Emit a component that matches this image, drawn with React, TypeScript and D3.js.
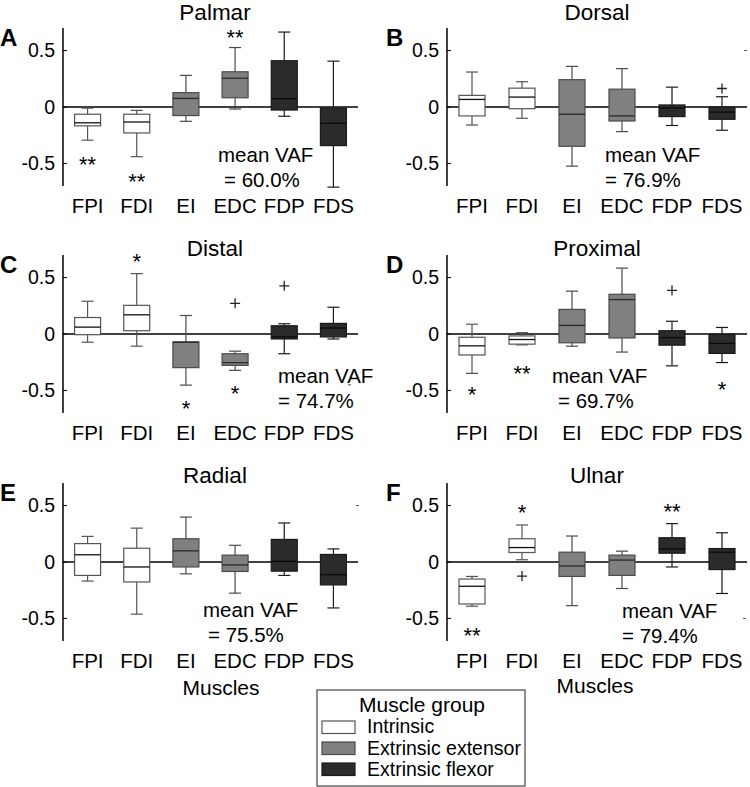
import React from "react";
import * as d3 from "d3";

// ---------- data ----------
const muscles = ["FPI", "FDI", "EI", "EDC", "FDP", "FDS"];
const muscleGroup = ["intrinsic", "intrinsic", "extensor", "extensor", "flexor", "flexor"];
const panelTitles = ["Palmar", "Dorsal", "Distal", "Proximal", "Radial", "Ulnar"];
const panelLetters = ["A", "B", "C", "D", "E", "F"];
const meanVAF = ["60.0%", "76.9%", "74.7%", "69.7%", "75.5%", "79.4%"];
const tickValues = [0.5, 0, -0.5];
const tickLabels = ["0.5", "0", "-0.5"];

// [whiskerLow, q1, median, q3, whiskerHigh] for each muscle
const palmarStats = [
  [-0.294, -0.167, -0.14, -0.064, -0.01],
  [-0.44, -0.23, -0.133, -0.064, -0.03],
  [-0.127, -0.076, 0.076, 0.127, 0.28],
  [-0.018, 0.082, 0.255, 0.312, 0.527],
  [-0.082, -0.027, 0.073, 0.41, 0.664],
  [-0.71, -0.342, -0.145, -0.009, 0.406],
];
const dorsalStats = [
  [-0.16, -0.079, 0.067, 0.103, 0.31],
  [-0.1, -0.015, 0.088, 0.167, 0.224],
  [-0.524, -0.348, -0.064, 0.242, 0.36],
  [-0.218, -0.124, -0.079, 0.158, 0.34],
  [-0.164, -0.085, -0.009, 0.018, 0.176],
  [-0.206, -0.109, -0.045, 0.0, 0.091],
];
const distalStats = [
  [-0.073, -0.006, 0.061, 0.146, 0.29],
  [-0.108, 0.029, 0.17, 0.254, 0.535],
  [-0.453, -0.298, -0.073, -0.07, 0.164],
  [-0.322, -0.278, -0.254, -0.175, -0.152],
  [-0.175, -0.044, -0.026, 0.073, 0.091],
  [-0.044, -0.026, 0.053, 0.094, 0.237],
];
const proximalStats = [
  [-0.349, -0.186, -0.105, -0.029, 0.087],
  [-0.096, -0.09, -0.049, -0.017, 0.012],
  [-0.108, -0.078, 0.076, 0.218, 0.38],
  [-0.16, -0.035, 0.305, 0.352, 0.584],
  [-0.282, -0.099, -0.032, 0.029, 0.113],
  [-0.253, -0.172, -0.084, -0.003, 0.058],
];
const radialStats = [
  [-0.169, -0.119, 0.064, 0.163, 0.227],
  [-0.462, -0.177, -0.044, 0.122, 0.3],
  [-0.105, -0.044, 0.099, 0.206, 0.398],
  [-0.276, -0.084, -0.026, 0.061, 0.148],
  [-0.119, -0.081, 0.006, 0.2, 0.346],
  [-0.407, -0.203, -0.113, 0.067, 0.116],
];
const ulnarStats = [
  [-0.392, -0.372, -0.215, -0.151, -0.128],
  [0.02, 0.084, 0.128, 0.206, 0.328],
  [-0.387, -0.128, -0.035, 0.087, 0.23],
  [-0.235, -0.119, 0.017, 0.061, 0.096],
  [-0.044, 0.078, 0.116, 0.215, 0.34],
  [-0.279, -0.067, 0.087, 0.119, 0.259],
];
const panelStats = [palmarStats, dorsalStats, distalStats, proximalStats, radialStats, ulnarStats];

// outliers: [muscleIndex, value]
const palmarOutliers: number[][] = [];
const dorsalOutliers = [[5, 0.164]];
const distalOutliers = [[3, 0.272], [4, 0.427]];
const proximalOutliers = [[4, 0.387]];
const radialOutliers: number[][] = [];
const ulnarOutliers = [[1, -0.125]];
const panelOutliers = [palmarOutliers, dorsalOutliers, distalOutliers, proximalOutliers, radialOutliers, ulnarOutliers];

// significance marks: [muscleIndex, label, value at glyph centre]
const palmarStars: [number, string, number][] = [[0, "**", -0.448], [1, "**", -0.606], [3, "**", 0.673]];
const dorsalStars: [number, string, number][] = [];
const distalStars: [number, string, number][] = [[1, "*", 0.696], [2, "*", -0.6], [3, "*", -0.474]];
const proximalStars: [number, string, number][] = [[0, "*", -0.48], [1, "**", -0.29], [5, "*", -0.436]];
const radialStars: [number, string, number][] = [];
const ulnarStars: [number, string, number][] = [[0, "**", -0.59], [1, "*", 0.5], [4, "**", 0.509]];
const panelStars = [palmarStars, dorsalStars, distalStars, proximalStars, radialStars, ulnarStars];

// small stray tick marks seen at the right side of some panels: [value]
const strayTicks = [[], [0.5], [-0.45], [], [0.5], [-0.5]];

const legendLabels = ["Intrinsic", "Extrinsic extensor", "Extrinsic flexor"];
const legendGroups = ["intrinsic", "extensor", "flexor"];

// ---------- styles / layout ----------
const FONT = "'Liberation Sans', Arial, Helvetica, sans-serif";
const fillOf: Record<string, string> = { intrinsic: "#ffffff", extensor: "#808080", flexor: "#2b2b2b" };
const strokeOf: Record<string, string> = { intrinsic: "#555555", extensor: "#4a4a4a", flexor: "#1a1a1a" };
const medianOf: Record<string, string> = { intrinsic: "#111111", extensor: "#2a2a2a", flexor: "#0a0a0a" };

const colX = [63, 447];
const colW = [295, 300];
const rowZero = [107, 334, 562];
const halfH = 79;
const titleDy = [-87, -78, -79];
const titleX = [215, 597];
const letterX = [0, 386];
const strayX = [[0], [297], [285], [0], [293], [296]];
// mean VAF text: [x1, x2] offsets from axis, baseline offset from zero line
const vafPos = [
  [155, 161, 55],
  [158, 158, 55],
  [215, 215, 49],
  [105, 111, 49],
  [140, 145, 55],
  [175, 175, 56],
];

function Panel({ idx }: { idx: number }) {
  const col = idx % 2;
  const row = Math.floor(idx / 2);
  const x0 = colX[col];
  const w = colW[col];
  const zero = rowZero[row];
  const y = d3.scaleLinear().domain([-0.7, 0.7]).range([zero + halfH, zero - halfH]);
  const x = d3.scaleBand().domain(muscles).range([x0, x0 + w]).paddingInner(0).paddingOuter(0);
  const bw = 26;
  const cw = 12;
  const stats = panelStats[idx];
  const vp = vafPos[idx];
  return (
    <g>
      {/* title */}
      <text x={titleX[col]} y={zero + titleDy[row]} textAnchor="middle" fontSize={22.5} fontFamily={FONT}>
        {panelTitles[idx]}
      </text>
      <text x={letterX[col]} y={y(0.7) + 18} fontSize={24} fontWeight="bold" fontFamily={FONT}>
        {panelLetters[idx]}
      </text>
      {/* y axis */}
      <line x1={x0} x2={x0} y1={y(0.7)} y2={y(-0.7)} stroke="#000" strokeWidth={1.5} />
      {tickValues.map((t, i) => (
        <g key={i}>
          <line x1={x0} x2={x0 + 4} y1={y(t)} y2={y(t)} stroke="#000" strokeWidth={1} />
          <text x={x0 - 8} y={y(t)} dy="0.35em" textAnchor="end" fontSize={19.5} fontFamily={FONT}>
            {tickLabels[i]}
          </text>
        </g>
      ))}
      {/* zero line */}
      <line x1={x0} x2={x0 + w} y1={y(0)} y2={y(0)} stroke="#000" strokeWidth={1.6} />
      {/* boxes */}
      {stats.map((s, i) => {
        const cx = (x(muscles[i]) as number) + x.bandwidth() / 2;
        const g = muscleGroup[i];
        const [lo, q1, med, q3, hi] = s;
        return (
          <g key={i}>
            <line x1={cx} x2={cx} y1={y(q3)} y2={y(hi)} stroke={strokeOf[g]} strokeWidth={1.2} />
            <line x1={cx} x2={cx} y1={y(q1)} y2={y(lo)} stroke={strokeOf[g]} strokeWidth={1.2} />
            <line x1={cx - cw / 2} x2={cx + cw / 2} y1={y(hi)} y2={y(hi)} stroke={strokeOf[g]} strokeWidth={1.2} />
            <line x1={cx - cw / 2} x2={cx + cw / 2} y1={y(lo)} y2={y(lo)} stroke={strokeOf[g]} strokeWidth={1.2} />
            <rect
              x={cx - bw / 2}
              y={y(q3)}
              width={bw}
              height={Math.max(0.5, y(q1) - y(q3))}
              fill={fillOf[g]}
              stroke={strokeOf[g]}
              strokeWidth={1.2}
            />
            <line x1={cx - bw / 2} x2={cx + bw / 2} y1={y(med)} y2={y(med)} stroke={medianOf[g]} strokeWidth={1.3} />
          </g>
        );
      })}
      {/* outliers */}
      {panelOutliers[idx].map(([mi, v], k) => {
        const cx = (x(muscles[mi]) as number) + x.bandwidth() / 2;
        const cy = y(v);
        return (
          <path key={k} d={`M${cx - 5},${cy}H${cx + 5}M${cx},${cy - 5}V${cy + 5}`} stroke="#222" strokeWidth={1.3} fill="none" />
        );
      })}
      {/* stars */}
      {panelStars[idx].map(([mi, label, v], k) => {
        const cx = (x(muscles[mi]) as number) + x.bandwidth() / 2;
        return (
          <text key={k} x={cx} y={y(v) + 14} textAnchor="middle" fontSize={22} fontFamily={FONT}>
            {label}
          </text>
        );
      })}
      {/* stray ticks */}
      {strayTicks[idx].map((v, k) => (
        <line key={k} x1={x0 + strayX[idx][0]} x2={x0 + strayX[idx][0] + 3} y1={y(v)} y2={y(v)} stroke="#555" strokeWidth={1} />
      ))}
      {/* mean VAF */}
      <text x={x0 + vp[0]} y={zero + vp[2]} fontSize={20.5} fontFamily={FONT}>
        mean VAF
      </text>
      <text x={x0 + vp[1]} y={zero + vp[2] + 25} fontSize={20.5} fontFamily={FONT}>
        = {meanVAF[idx]}
      </text>
      {/* category labels */}
      {muscles.map((m) => (
        <text
          key={m}
          x={(x(m) as number) + x.bandwidth() / 2}
          y={zero + 106}
          textAnchor="middle"
          fontSize={20.5}
          fontFamily={FONT}
        >
          {m}
        </text>
      ))}
    </g>
  );
}

export default function App() {
  return (
    <svg
      width={750}
      height={787}
      style={{ position: "absolute", left: 0, top: 0, background: "#fff" }}
      fontFamily={FONT}
    >
      <rect x={0} y={0} width={750} height={787} fill="#fff" />
      {panelTitles.map((_, i) => (
        <Panel key={i} idx={i} />
      ))}
      <text x={221} y={695} textAnchor="middle" fontSize={21} fontFamily={FONT}>
        Muscles
      </text>
      <text x={595} y={693} textAnchor="middle" fontSize={21} fontFamily={FONT}>
        Muscles
      </text>
      {/* legend */}
      <g>
        <rect x={317} y={690} width={208} height={96} fill="#fff" stroke="#444" strokeWidth={1.2} />
        <text x={422} y={712} textAnchor="middle" fontSize={21} fontFamily={FONT}>
          Muscle group
        </text>
        {legendLabels.map((l, i) => (
          <g key={l}>
            <rect
              x={322}
              y={721 + i * 21}
              width={33}
              height={12.5}
              fill={fillOf[legendGroups[i]]}
              stroke={strokeOf[legendGroups[i]]}
              strokeWidth={1.2}
            />
            <text x={367} y={733 + i * 21.5} fontSize={19.5} fontFamily={FONT}>
              {l}
            </text>
          </g>
        ))}
      </g>
    </svg>
  );
}
